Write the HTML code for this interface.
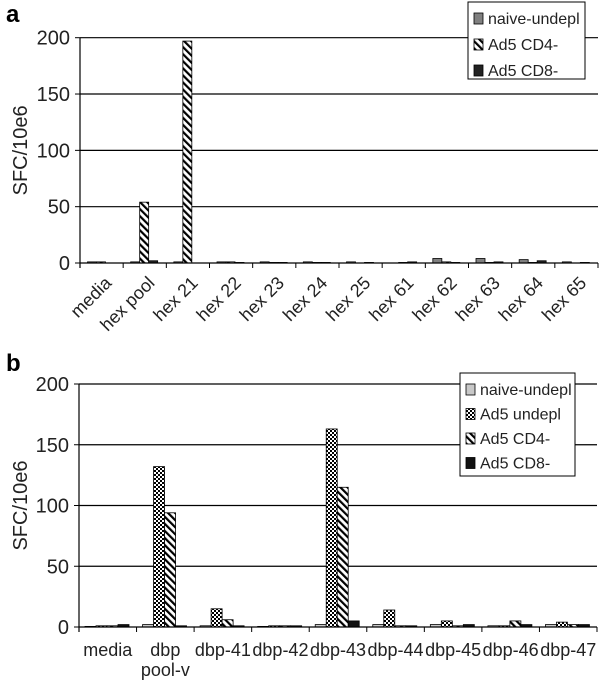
<!DOCTYPE html>
<html><head><meta charset="utf-8">
<style>
body{margin:0;background:#fff;}
svg text{font-family:"Liberation Sans",Arial,sans-serif;}
</style></head>
<body>
<svg id="s" width="600" height="683" viewBox="0 0 600 683" xmlns="http://www.w3.org/2000/svg">
<defs>
<pattern id="hatch" patternUnits="userSpaceOnUse" width="5" height="5" patternTransform="rotate(-45)">
<rect width="5" height="5" fill="#fff"/><rect width="2.2" height="5" fill="#000"/>
</pattern>
<pattern id="check" patternUnits="userSpaceOnUse" width="4" height="4">
<rect width="4" height="4" fill="#fff"/><rect width="2" height="2" fill="#000"/><rect x="2" y="2" width="2" height="2" fill="#000"/>
</pattern>
</defs>
<text x="6" y="22" font-size="24" font-weight="bold">a</text>
<text x="6" y="371" font-size="24" font-weight="bold">b</text>
<g id="ga"></g>
<g id="gb"></g>
</svg>
<script>
const catsA=["media","hex pool","hex 21","hex 22","hex 23","hex 24","hex 25","hex 61","hex 62","hex 63","hex 64","hex 65"];
const seriesNamesA=["naive-undepl","Ad5 CD4-","Ad5 CD8-"];
const naiveA=[1,1,1,1,1,1,1,0,4,4,3,1];
const cd4A=[1,54,197,1,0.5,0.5,0,0.5,1,0.5,0.5,0];
const cd8A=[0,2,0,0.5,0.5,0.5,0.5,1,0.5,1,2,0.5];
const catsB=[["media"],["dbp","pool-v"],["dbp-41"],["dbp-42"],["dbp-43"],["dbp-44"],["dbp-45"],["dbp-46"],["dbp-47"]];
const seriesNamesB=["naive-undepl","Ad5 undepl","Ad5 CD4-","Ad5 CD8-"];
const naiveB=[0.5,2,1,0.5,2,2,2,1,2];
const undeplB=[1,132,15,1,163,14,5,1,4];
const cd4B=[1,94,6,1,115,1,1,5,2];
const cd8B=[2,1,1,1,5,1,2,2,2];
const ticks=[0,50,100,150,200];

const NS="http://www.w3.org/2000/svg";
function mk(p,t,a){const e=document.createElementNS(NS,t);for(const k in a)e.setAttribute(k,a[k]);p.appendChild(e);return e;}

function chart(g,o){
  const y=v=>o.y0-(v/200)*(o.y0-o.y200);
  const cw=(o.x1-o.x0)/o.cats.length;
  const x=i=>o.x0+i*cw;
  ticks.forEach(t=>{
    if(t>0){const l=mk(g,"line",{x1:o.x0,x2:o.x1,y1:y(t),y2:y(t),stroke:"#000","stroke-width":1.2});
    
    }
    const tx=mk(g,"text",{x:o.x0-10,y:y(t)+7,"font-size":20,"text-anchor":"end",fill:"#222"});
    tx.textContent=t;
    
    
    mk(g,"line",{x1:o.x0-5,x2:o.x0,y1:y(t),y2:y(t),stroke:"#000"});
  });
  const yt=mk(g,"text",{x:0,y:0,"font-size":20,"text-anchor":"middle",fill:"#222",transform:`translate(27,${(o.y0+o.y200)/2}) rotate(-90)`});
  yt.textContent="SFC/10e6";
  
  
  o.series.forEach((s,si)=>{
    s.vals.forEach((v,i)=>{
      const bx=x(i)+o.off+si*o.bw;
      const r=mk(g,"rect",{x:bx,y:y(v),width:o.bw,height:Math.max(0,o.y0-y(v)),fill:s.fill,stroke:"#000","stroke-width":0.8});
      
      
    });
  });
  mk(g,"line",{x1:o.x0,x2:o.x0,y1:o.y200,y2:o.y0+5,stroke:"#000","stroke-width":1.2});
  mk(g,"line",{x1:o.x0,x2:o.x1,y1:o.y0,y2:o.y0,stroke:"#000","stroke-width":1.2});
  o.cats.forEach((c,i)=>{
    mk(g,"line",{x1:x(i+1),x2:x(i+1),y1:o.y0,y2:o.y0+5,stroke:"#000"});
    const cx=x(i)+cw/2;
    let t;
    if(o.rot){
      t=mk(g,"text",{x:0,y:0,"font-size":18,"text-anchor":"end",fill:"#222",transform:`translate(${cx+11},${o.y0+21}) rotate(-45)`});
      t.textContent=c;
    } else {
      t=mk(g,"text",{x:cx,y:o.y0+29,"font-size":18,"text-anchor":"middle",fill:"#222"});
      c.forEach((ln,li)=>{const ts=mk(t,"tspan",{x:cx,dy:li?20:0});ts.textContent=ln;});
    }
    
    
  });
  const L=o.leg;
  const lg=mk(g,"g",{});
  
  
  mk(lg,"rect",{x:L.x,y:L.y,width:L.w,height:L.h,fill:"#fff",stroke:"#000","stroke-width":1});
  o.series.forEach((s,si)=>{
    const yy=L.y+L.pad+si*L.step;
    mk(lg,"rect",{x:L.x+6,y:yy-11,width:9,height:11,fill:s.fill,stroke:"#000","stroke-width":0.8});
    const t=mk(lg,"text",{x:L.x+20,y:yy,"font-size":16,fill:"#222"});
    t.textContent=s.name;
    
    
  });
}
chart(document.getElementById("ga"),{x0:80,x1:598,y0:263,y200:37.7,cats:catsA,off:7.5,bw:9,rot:true,
  series:[{key:"naive",name:seriesNamesA[0],vals:naiveA,fill:"#808080"},{key:"cd4",name:seriesNamesA[1],vals:cd4A,fill:"url(#hatch)"},{key:"cd8",name:seriesNamesA[2],vals:cd8A,fill:"#222"}],
  leg:{x:468,y:2,w:117,h:77,pad:22,step:26}});
chart(document.getElementById("gb"),{x0:79,x1:597,y0:627,y200:384,cats:catsB,off:6,bw:11,rot:false,
  series:[{key:"naive",name:seriesNamesB[0],vals:naiveB,fill:"#c8c8c8"},{key:"undepl",name:seriesNamesB[1],vals:undeplB,fill:"url(#check)"},{key:"cd4",name:seriesNamesB[2],vals:cd4B,fill:"url(#hatch)"},{key:"cd8",name:seriesNamesB[3],vals:cd8B,fill:"#111"}],
  leg:{x:460,y:373,w:115,h:103,pad:22,step:24.5}});
</script>
</body></html>
